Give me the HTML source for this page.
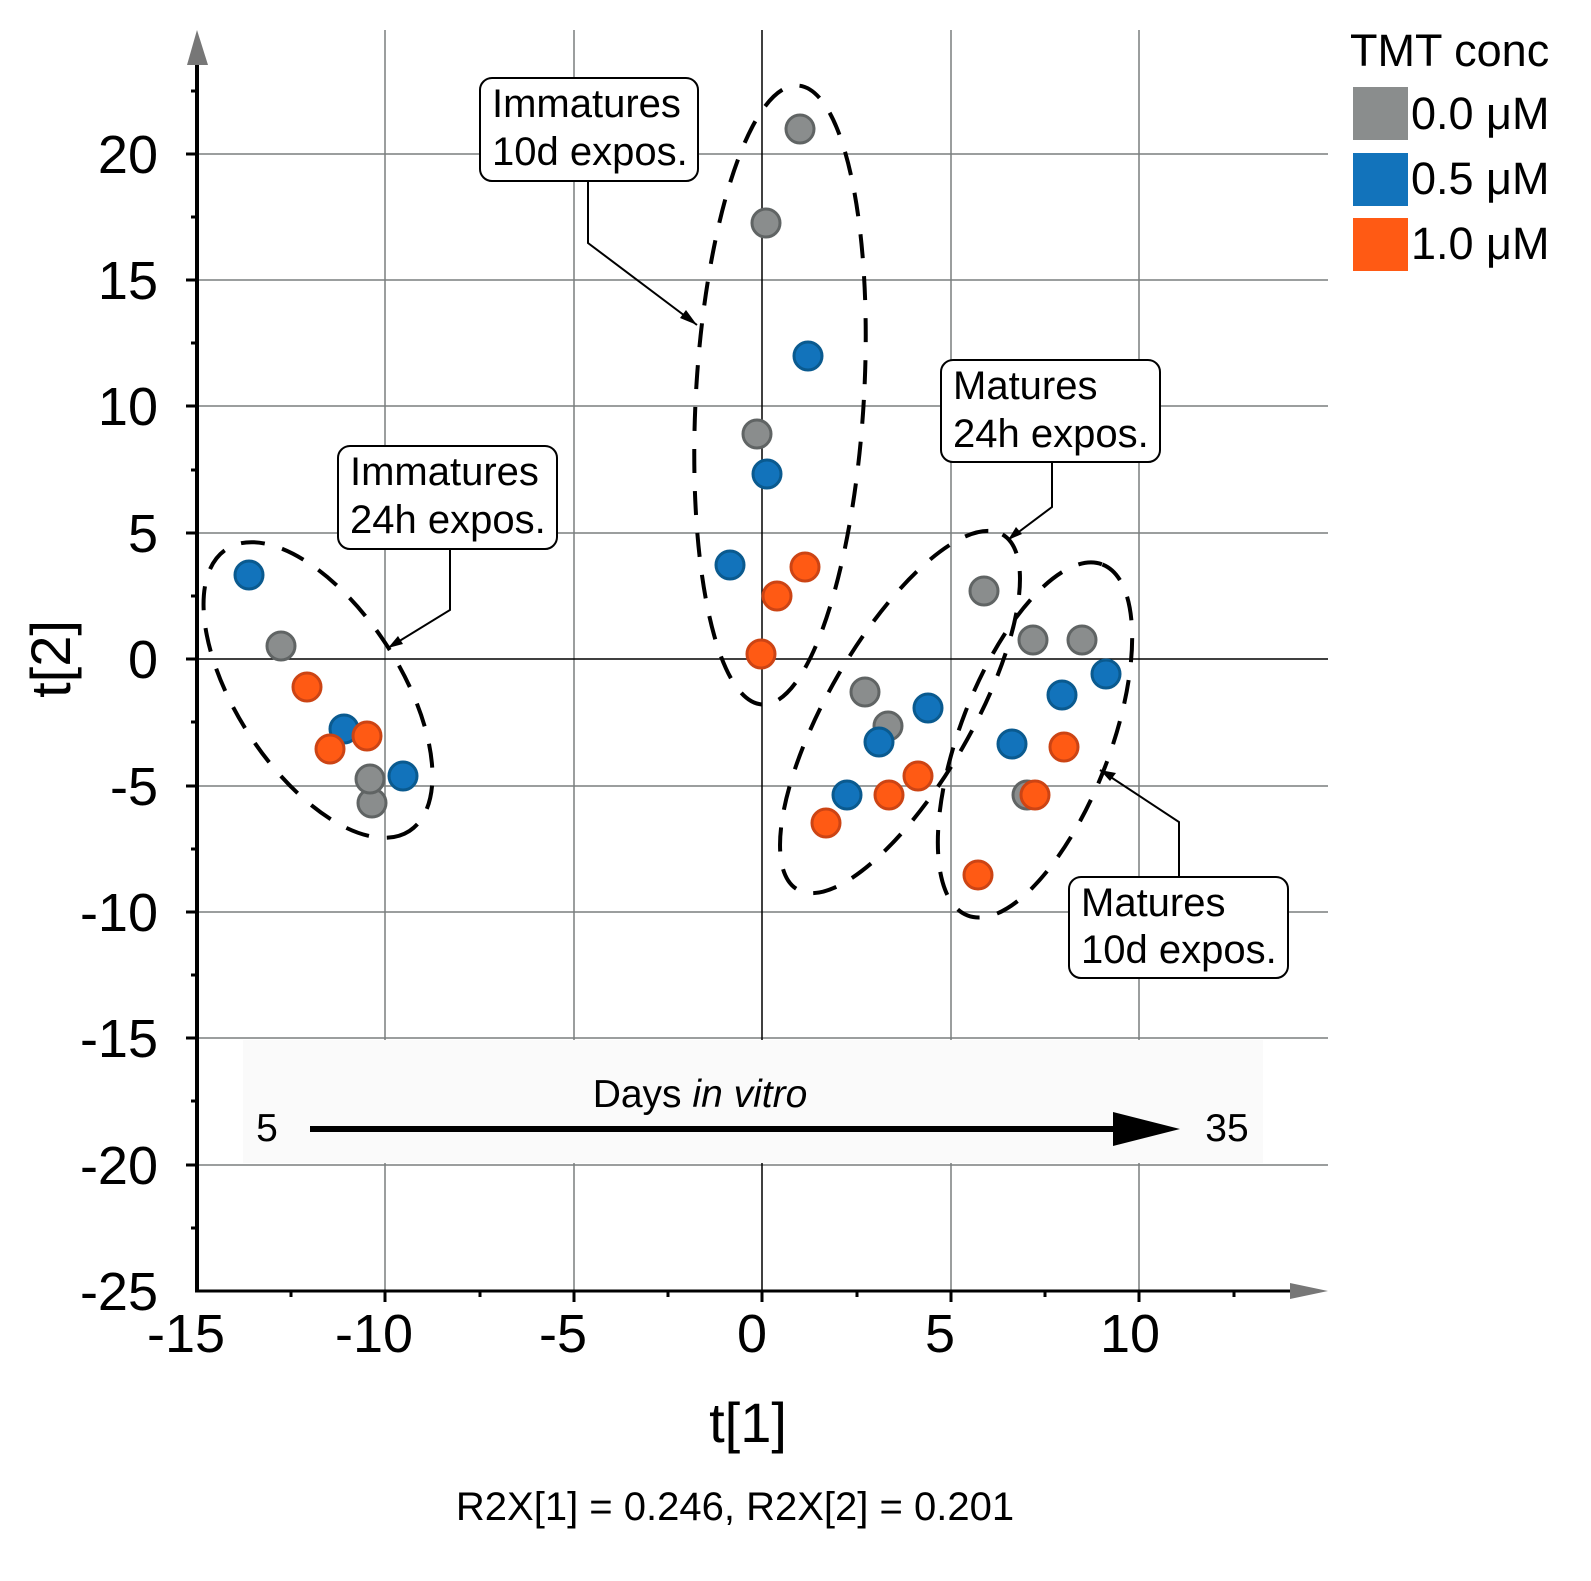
<!DOCTYPE html>
<html><head><meta charset="utf-8"><style>
html,body{margin:0;padding:0;background:#fff;}
svg{display:block;font-family:"Liberation Sans",sans-serif;}
</style></head><body>
<svg width="1591" height="1581" viewBox="0 0 1591 1581" xmlns="http://www.w3.org/2000/svg">
<!-- grid -->
<g stroke="#7a7e7e" stroke-width="1.5">
<line x1="385" y1="30" x2="385" y2="1291"/><line x1="574" y1="30" x2="574" y2="1291"/>
<line x1="951" y1="30" x2="951" y2="1291"/><line x1="1139" y1="30" x2="1139" y2="1291"/>
<line x1="197" y1="154" x2="1328" y2="154"/><line x1="197" y1="280" x2="1328" y2="280"/>
<line x1="197" y1="406" x2="1328" y2="406"/><line x1="197" y1="533" x2="1328" y2="533"/>
<line x1="197" y1="786" x2="1328" y2="786"/><line x1="197" y1="912" x2="1328" y2="912"/>
<line x1="197" y1="1038" x2="1328" y2="1038"/><line x1="197" y1="1165" x2="1328" y2="1165"/>
</g>
<g stroke="#000" stroke-width="1.5">
<line x1="762" y1="30" x2="762" y2="1291"/><line x1="197" y1="659" x2="1328" y2="659"/>
</g>
<!-- inset -->
<rect x="243" y="1040" width="1020" height="123" fill="#fafafa"/>
<text x="700" y="1107" font-size="39" text-anchor="middle">Days <tspan font-style="italic">in vitro</tspan></text>
<text x="267" y="1141" font-size="39" text-anchor="middle">5</text>
<text x="1227" y="1141" font-size="39" text-anchor="middle">35</text>
<line x1="310" y1="1129" x2="1120" y2="1129" stroke="#000" stroke-width="6"/>
<polygon points="1113,1112 1180,1129 1113,1146" fill="#000"/>
<!-- axes -->
<line x1="197" y1="40" x2="197" y2="1291" stroke="#000" stroke-width="4"/>
<line x1="195" y1="1291" x2="1300" y2="1291" stroke="#000" stroke-width="3"/>
<polygon points="197,30 187,65 208,65" fill="#777"/>
<polygon points="1328,1291 1290,1283 1290,1299" fill="#777"/>
<g stroke="#000" stroke-width="3">
<line x1="186" y1="154" x2="197" y2="154"/><line x1="186" y1="280" x2="197" y2="280"/><line x1="186" y1="406" x2="197" y2="406"/><line x1="186" y1="533" x2="197" y2="533"/><line x1="186" y1="659" x2="197" y2="659"/><line x1="186" y1="786" x2="197" y2="786"/><line x1="186" y1="912" x2="197" y2="912"/><line x1="186" y1="1038" x2="197" y2="1038"/><line x1="186" y1="1165" x2="197" y2="1165"/>
<line x1="191" y1="91" x2="197" y2="91"/><line x1="191" y1="217" x2="197" y2="217"/><line x1="191" y1="343" x2="197" y2="343"/><line x1="191" y1="470" x2="197" y2="470"/><line x1="191" y1="596" x2="197" y2="596"/><line x1="191" y1="722" x2="197" y2="722"/><line x1="191" y1="849" x2="197" y2="849"/><line x1="191" y1="975" x2="197" y2="975"/><line x1="191" y1="1101" x2="197" y2="1101"/><line x1="191" y1="1228" x2="197" y2="1228"/>
<line x1="385" y1="1291" x2="385" y2="1302"/><line x1="574" y1="1291" x2="574" y2="1302"/><line x1="762" y1="1291" x2="762" y2="1302"/><line x1="951" y1="1291" x2="951" y2="1302"/><line x1="1139" y1="1291" x2="1139" y2="1302"/>
<line x1="291" y1="1291" x2="291" y2="1297"/><line x1="480" y1="1291" x2="480" y2="1297"/><line x1="668" y1="1291" x2="668" y2="1297"/><line x1="857" y1="1291" x2="857" y2="1297"/><line x1="1045" y1="1291" x2="1045" y2="1297"/><line x1="1234" y1="1291" x2="1234" y2="1297"/>
</g>
<g font-size="54" text-anchor="end">
<text x="158" y="173">20</text><text x="158" y="299">15</text><text x="158" y="425">10</text><text x="158" y="552">5</text><text x="158" y="678">0</text><text x="158" y="805">-5</text><text x="158" y="931">-10</text><text x="158" y="1057">-15</text><text x="158" y="1184">-20</text><text x="158" y="1310">-25</text>
</g>
<g font-size="54" text-anchor="middle">
<text x="186" y="1352">-15</text><text x="374" y="1352">-10</text><text x="563" y="1352">-5</text><text x="752" y="1352">0</text><text x="940" y="1352">5</text><text x="1130" y="1352">10</text>
</g>
<text x="748" y="1442" font-size="56" text-anchor="middle">t[1]</text>
<text transform="translate(70,659) rotate(-90)" font-size="56" text-anchor="middle">t[2]</text>
<text x="735" y="1520" font-size="40" text-anchor="middle">R2X[1] = 0.246, R2X[2] = 0.201</text>
<!-- ellipses -->
<g fill="none" stroke="#000" stroke-width="4" stroke-dasharray="24,18">
<ellipse cx="318" cy="690" rx="168" ry="82" transform="rotate(57 318 690)"/>
<ellipse cx="780" cy="395" rx="84" ry="310" transform="rotate(3.3 780 395)"/>
<ellipse cx="900" cy="712" rx="205" ry="72" transform="rotate(-60 900 712)"/>
<ellipse cx="1035" cy="740" rx="188" ry="75" transform="rotate(-69 1035 740)"/>
</g>
<!-- points -->
<g fill="#8a8d8d" stroke="#606464" stroke-width="3">
<circle cx="800" cy="129" r="14"/><circle cx="766" cy="223" r="14"/><circle cx="757" cy="434" r="14"/><circle cx="281" cy="646" r="14"/><circle cx="372" cy="803" r="14"/><circle cx="370" cy="779" r="14"/><circle cx="865" cy="692" r="14"/><circle cx="888" cy="726" r="14"/><circle cx="984" cy="591" r="14"/><circle cx="1033" cy="640" r="14"/><circle cx="1082" cy="640" r="14"/><circle cx="1027" cy="795" r="14"/>
</g>
<g fill="#1273bb" stroke="#0a5a8f" stroke-width="3">
<circle cx="808" cy="356" r="14"/><circle cx="767" cy="474" r="14"/><circle cx="730" cy="565" r="14"/><circle cx="249" cy="575" r="14"/><circle cx="344" cy="729" r="14"/><circle cx="403" cy="776" r="14"/><circle cx="928" cy="708" r="14"/><circle cx="879" cy="742" r="14"/><circle cx="847" cy="795" r="14"/><circle cx="1012" cy="744" r="14"/><circle cx="1062" cy="695" r="14"/><circle cx="1106" cy="674" r="14"/>
</g>
<g fill="#ff5a14" stroke="#cc4414" stroke-width="3">
<circle cx="805" cy="567" r="14"/><circle cx="777" cy="596" r="14"/><circle cx="761" cy="654" r="14"/><circle cx="307" cy="687" r="14"/><circle cx="330" cy="749" r="14"/><circle cx="367" cy="736" r="14"/><circle cx="826" cy="823" r="14"/><circle cx="889" cy="795" r="14"/><circle cx="918" cy="776" r="14"/><circle cx="1064" cy="747" r="14"/><circle cx="1035" cy="795" r="14"/><circle cx="978" cy="875" r="14"/>
</g>
<!-- callouts -->
<g fill="none" stroke="#000" stroke-width="2">
<polyline points="588,181 588,243 697,325"/>
<polyline points="450,549 450,610 388,648"/>
<polyline points="1052,462 1052,507 1008,540"/>
<polyline points="1179,877 1179,822 1100,770"/>
</g>
<g fill="#000">
<polygon points="697,325 680,318 686,310"/>
<polygon points="388,648 398,636 403,644"/>
<polygon points="1008,540 1016,527 1022,534"/>
<polygon points="1100,770 1116,773 1110,781"/>
</g>
<g fill="#fff" stroke="#000" stroke-width="2">
<rect x="480" y="78" width="218" height="103" rx="12"/>
<rect x="338" y="446" width="219" height="103" rx="12"/>
<rect x="941" y="360" width="219" height="102" rx="12"/>
<rect x="1069" y="877" width="219" height="101" rx="12"/>
</g>
<g font-size="40">
<text x="492" y="117">Immatures</text><text x="492" y="165">10d expos.</text>
<text x="350" y="485">Immatures</text><text x="350" y="533">24h expos.</text>
<text x="953" y="399">Matures</text><text x="953" y="447">24h expos.</text>
<text x="1081" y="916">Matures</text><text x="1081" y="963">10d expos.</text>
</g>
<!-- legend -->
<text x="1350" y="66" font-size="45">TMT conc</text>
<rect x="1353" y="87" width="55" height="53" fill="#8a8d8d"/>
<rect x="1353" y="153" width="55" height="53" fill="#1273bb"/>
<rect x="1353" y="218" width="55" height="53" fill="#ff5a14"/>
<g font-size="45"><text x="1411" y="129">0.0 μM</text><text x="1411" y="194">0.5 μM</text><text x="1411" y="259">1.0 μM</text></g>
</svg>
</body></html>
